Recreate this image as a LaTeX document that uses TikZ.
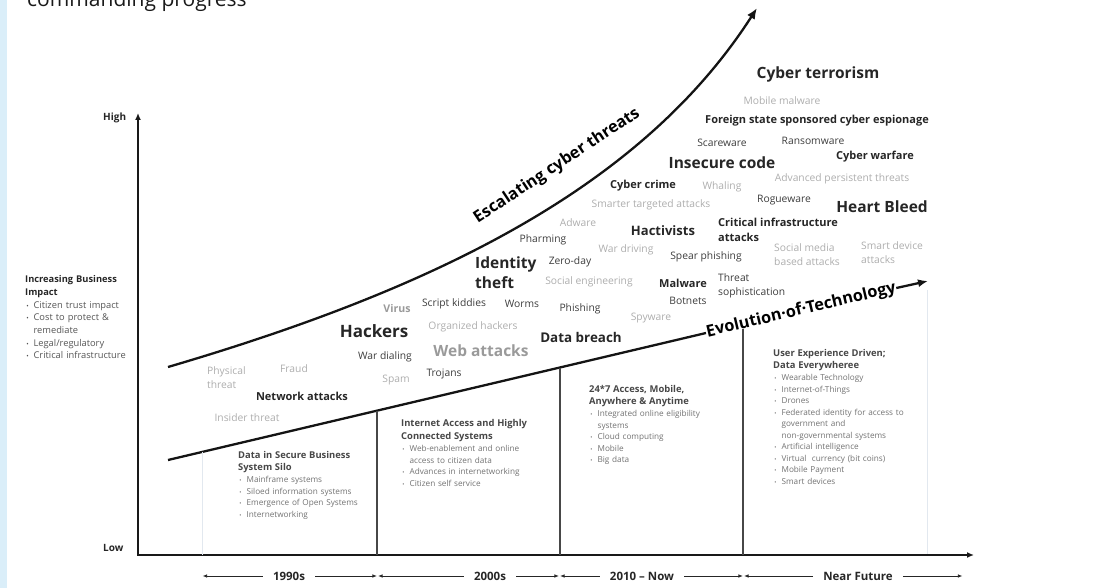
\documentclass[tikz,border=0pt]{standalone}
\usepackage{fontspec}
\setmainfont{Open Sans}
\usetikzlibrary{arrows.meta}

\definecolor{inkdark}{HTML}{262626}
\definecolor{inkreg}{HTML}{3C3C3C}
\definecolor{inkmid}{HTML}{9A9A9A}
\definecolor{inklight}{HTML}{ADADAD}
\definecolor{inkhead}{HTML}{474747}
\definecolor{inkbox}{HTML}{727272}
\definecolor{inkside}{HTML}{555555}
\definecolor{stripblue}{HTML}{DAEEF9}
\definecolor{faintline}{HTML}{E2E8EF}

\newcommand{\pxfont}[2]{\fontsize{#1}{#2}\selectfont}
\newcommand{\bitem}[1]{\makebox[8.4pt][l]{\hspace{1.2pt}\scalebox{.7}{\textbullet}}#1}
\newcommand{\bcont}[1]{\hspace*{8.4pt}#1}

\tikzset{
  bigthreat/.style={font=\bfseries\pxfont{15.5}{20}, text=inkdark, inner sep=0pt, align=left},
  midthreat/.style={font=\bfseries\pxfont{11}{14.5}, text=inkdark, inner sep=0pt, align=left},
  regthreat/.style={font=\pxfont{10.3}{14.5}, text=inkreg, inner sep=0pt, align=left},
  lightthreat/.style={font=\pxfont{10.3}{14}, text=inklight, inner sep=0pt, align=left},
  trendtext/.style={font=\bfseries\pxfont{16.3}{18}, text=black, inner sep=0.5pt},
  trendline/.style={line width=2.3pt, draw=black!92},
  axisline/.style={line width=2pt, draw=black!90},
  eraline/.style={line width=1.2pt, draw=inkhead},
  edgeline/.style={line width=0.8pt, draw=faintline},
  erabox/.style={anchor=north west, inner sep=0pt, align=left, text width=160pt,
    font=\pxfont{8.2}{11.5}, text=inkbox},
  sidepanel/.style={anchor=north west, inner sep=0pt, align=left, text width=150pt,
    font=\pxfont{9.3}{12.7}, text=inkside},
  axislabel/.style={anchor=west, inner sep=0pt, font=\bfseries\pxfont{10}{12}, text=inkdark},
  yearlabel/.style={inner ysep=0pt, inner xsep=10pt, font=\bfseries\pxfont{11.5}{13}, text=inkdark},
  yeararrow/.style={line width=0.8pt, draw=inkdark, -{Latex[length=4.5pt,width=3.6pt]}, shorten >=0.6pt}
}
\newcommand{\boxhead}[1]{{\bfseries\pxfont{9.4}{11.5}\color{inkhead}#1}}

\begin{document}
\begin{tikzpicture}[x=1pt,y=-1pt]
  \useasboundingbox (0,0) rectangle (1110,588);
  \fill[stripblue] (0,0) rectangle (7,588);
  \node[anchor=base west, inner sep=0pt, font=\pxfont{21}{24}, text=black!90] (title) at (27,7) {commanding progress};

  % axes
  \coordinate (ytip) at (138,113);
  \coordinate (origin) at (138,555);
  \coordinate (xtip) at (974,555);
  \draw[axisline, {Latex[length=7pt,width=6pt]}-{Latex[length=7pt,width=6pt]}] (ytip) -- (origin) -- (xtip);
  \node[axislabel] (high) at (103,118) {High};
  \node[axislabel] (low) at (103,548) {Low};

  % side panel
  \node[sidepanel] (impact) at (25,275.5) {{\bfseries\color{inkdark}Increasing Business\\Impact}\\
    \bitem{Citizen trust impact}\\
    \bitem{Cost to protect \&}\\
    \bcont{remediate}\\
    \bitem{Legal/regulatory}\\
    \bitem{Critical infrastructure}};

  % trend curves
  \coordinate (escS) at (168,367);
  \coordinate (escE) at (757,8);
  \draw[trendline, -{Latex[length=11pt,width=9pt]}] (escS) .. controls (430,290) and (640,190) .. (escE);
  \node[trendtext, rotate=33.5] (esc) at (557,166) {Escalating cyber threats};

  \coordinate (evoS) at (168,460);
  \coordinate (evoE) at (706,333);
  \coordinate (evoTip) at (928,281);
  \node[trendtext, rotate=13.3, anchor=west] (evo) at (evoE) {Evolution·of·Technology};
  \draw[trendline] (evoS) -- (evo.west);
  \draw[trendline, -{Latex[length=10pt,width=8pt]}] (evo.east) -- (evoTip);

  % era dividers
  \coordinate (e0top) at (202,452);
  \coordinate (e0bot) at (202,555);
  \coordinate (e1top) at (377,410.7);
  \coordinate (e1bot) at (377,555);
  \coordinate (e2top) at (560,367.5);
  \coordinate (e2bot) at (560,555);
  \coordinate (e3top) at (743,329);
  \coordinate (e3bot) at (743,555);
  \coordinate (e4top) at (927,290);
  \coordinate (e4bot) at (927,554);
  \draw[edgeline] (e0top) -- (e0bot);
  \draw[edgeline] (e4top) -- (e4bot);
  \draw[eraline] (e1top) -- (e1bot);
  \draw[eraline] (e2top) -- (e2bot);
  \draw[eraline] (e3top) -- (e3bot);

  % era boxes
  \node[erabox] (silo) at (238,451.5) {\boxhead{Data in Secure Business\\System Silo}\\[1pt]
    \bitem{Mainframe systems}\\
    \bitem{Siloed information systems}\\
    \bitem{Emergence of Open Systems}\\
    \bitem{Internetworking}};
  \node[erabox] (web) at (401,419.5) {\boxhead{Internet Access and Highly\\[1pt]Connected Systems}\\[1pt]
    \bitem{Web-enablement and online}\\
    \bcont{access to citizen data}\\
    \bitem{Advances in internetworking}\\
    \bitem{Citizen self service}};
  \node[erabox] (mobile) at (589,385.5) {\boxhead{24*7 Access, Mobile,\\Anywhere \& Anytime}\\[1pt]
    \bitem{Integrated online eligibility}\\
    \bcont{systems}\\
    \bitem{Cloud computing}\\
    \bitem{Mobile}\\
    \bitem{Big data}};
  \node[erabox] (future) at (773,349.5) {\boxhead{User Experience Driven;\\Data Everywheree}\\[1pt]
    \bitem{Wearable Technology}\\
    \bitem{Internet-of-Things}\\
    \bitem{Drones}\\
    \bitem{Federated identity for access to}\\
    \bcont{government and}\\
    \bcont{non-governmental systems}\\
    \bitem{Artificial intelligence}\\
    \bitem{Virtual\ \ currency (bit coins)}\\
    \bitem{Mobile Payment}\\
    \bitem{Smart devices}};

  % threats, big
  \node[bigthreat] (cyterr) at (818,74) {Cyber terrorism};
  \node[bigthreat] (inscode) at (722,163) {Insecure code};
  \node[bigthreat] (heart) at (882,207) {Heart Bleed};
  \node[bigthreat, anchor=north west] (identity) at (475,257) {Identity\\theft};
  \node[bigthreat, font=\bfseries\pxfont{17}{20}] (hackers) at (374,331) {Hackers};
  \node[bigthreat, text=inkmid] (webatt) at (481,351) {Web attacks};
  \node[bigthreat, font=\bfseries\pxfont{13}{16}] (hactiv) at (663,231) {Hactivists};
  \node[bigthreat, font=\bfseries\pxfont{13.4}{16}] (breach) at (581,337) {Data breach};

  % threats, medium
  \node[midthreat] (foreign) at (817,121) {Foreign state sponsored cyber espionage};
  \node[midthreat] (cywar) at (875,157) {Cyber warfare};
  \node[midthreat] (cycrime) at (643,186) {Cyber crime};
  \node[midthreat, anchor=north west] (critinf) at (718,218) {Critical infrastructure\\attacks};
  \node[midthreat] (malware) at (683,283) {Malware};
  \node[midthreat] (netatt) at (302,396) {Network attacks};
  \node[midthreat, text=inkmid, font=\bfseries\pxfont{10.6}{14}] (virus) at (397,309) {Virus};

  % threats, regular
  \node[regthreat] (scare) at (722,143) {Scareware};
  \node[regthreat] (ransom) at (813,141) {Ransomware};
  \node[regthreat] (rogue) at (784,200) {Rogueware};
  \node[regthreat] (pharm) at (543,240) {Pharming};
  \node[regthreat] (zeroday) at (570,262) {Zero-day};
  \node[regthreat] (spear) at (706,257) {Spear phishing};
  \node[regthreat, anchor=north west] (sophist) at (718,273) {Threat\\sophistication};
  \node[regthreat] (botnets) at (688,301) {Botnets};
  \node[regthreat] (worms) at (522,304) {Worms};
  \node[regthreat] (script) at (454,304) {Script kiddies};
  \node[regthreat] (phishing) at (580,309) {Phishing};
  \node[regthreat] (wardial) at (385,357) {War dialing};
  \node[regthreat] (trojans) at (444,374) {Trojans};

  % threats, faint
  \node[lightthreat] (mobmal) at (782,101) {Mobile malware};
  \node[lightthreat] (advpers) at (842,179) {Advanced persistent threats};
  \node[lightthreat] (whaling) at (722,187) {Whaling};
  \node[lightthreat] (smarter) at (651,205) {Smarter targeted attacks};
  \node[lightthreat] (adware) at (578,223) {Adware};
  \node[lightthreat] (wardrive) at (626,250) {War driving};
  \node[lightthreat, anchor=north west] (socmedia) at (774,243) {Social media\\based attacks};
  \node[lightthreat, anchor=north west] (smartdev) at (861,241) {Smart device\\attacks};
  \node[lightthreat] (soceng) at (589,282) {Social engineering};
  \node[lightthreat] (spyware) at (651,318) {Spyware};
  \node[lightthreat] (orghack) at (473,327) {Organized hackers};
  \node[lightthreat, anchor=north west] (physical) at (207,366) {Physical\\threat};
  \node[lightthreat] (fraud) at (294,369) {Fraud};
  \node[lightthreat] (spam) at (396,380) {Spam};
  \node[lightthreat] (insider) at (247,418) {Insider threat};

  % timeline
  \coordinate (ta) at (202,576);
  \coordinate (tb) at (377.5,576);
  \coordinate (tc) at (559.5,576);
  \coordinate (td) at (743.5,576);
  \coordinate (te) at (963,576);
  \node[yearlabel] (y1990) at (289,576) {1990s};
  \node[yearlabel] (y2000) at (490,576) {2000s};
  \node[yearlabel] (ynow) at (642,576) {2010 – Now};
  \node[yearlabel] (yfut) at (858,576) {Near Future};
  \draw[yeararrow] (y1990.west) -- (ta);
  \draw[yeararrow] (y1990.east) -- (tb);
  \draw[yeararrow] (y2000.west) -- (tb);
  \draw[yeararrow] (y2000.east) -- (tc);
  \draw[yeararrow] (ynow.west) -- (tc);
  \draw[yeararrow] (ynow.east) -- (td);
  \draw[yeararrow] (yfut.west) -- (td);
  \draw[yeararrow] (yfut.east) -- (te);
\end{tikzpicture}
\end{document}
